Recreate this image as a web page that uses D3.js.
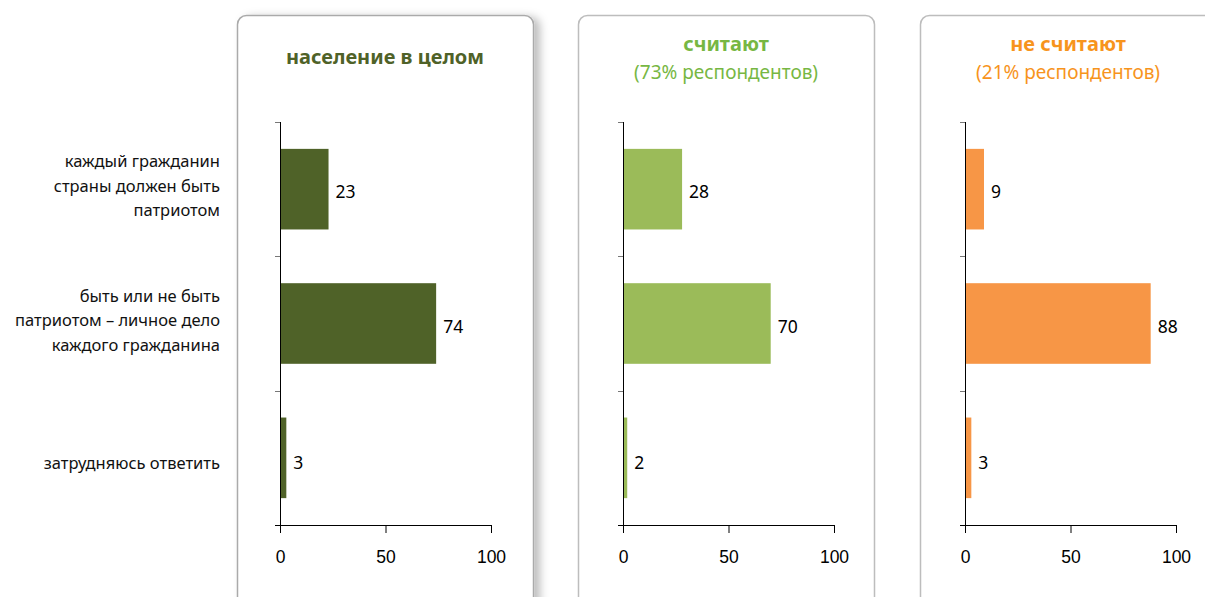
<!DOCTYPE html>
<html>
<head>
<meta charset="utf-8">
<script src="https://cdn.jsdelivr.net/npm/d3@7"></script>
<style>
  body { margin: 0; background: #fff; }
  svg { display: block; font-family: "Noto Sans", "Open Sans", sans-serif; }
  .cat { font-size: 16.5px; fill: #111; }
  .val { font-size: 17.5px; fill: #000; }
  .tick text { font-size: 17.5px; fill: #000; }
</style>
</head>
<body>
<svg id="chart" width="1205" height="597"></svg>
<script>
// Data
const categories = ['patriot', 'personal', 'dontknow'];
const categoryLines = [
  ['каждый гражданин', 'страны должен быть', 'патриотом'],
  ['быть или не быть', 'патриотом – личное дело', 'каждого гражданина'],
  ['затрудняюсь ответить'],
];
const panelTitles = ['население в целом', 'считают', 'не считают'];
const panelSubtitles = [null, '(73% респондентов)', '(21% респондентов)'];
const valuesAll = [23, 74, 3];
const valuesYes = [28, 70, 2];
const valuesNo = [9, 88, 3];
const xTicks = [0, 50, 100];

const panelValues = [valuesAll, valuesYes, valuesNo];
const barColors = ['#4f6228', '#9bbb59', '#f79646'];
const titleColors = ['#4f6228', '#77b743', '#f7941d'];

const svg = d3.select('#chart');

// drop shadow for the first card
const defs = svg.append('defs');
const f = defs.append('filter').attr('id', 'shadow').attr('x', '-10%').attr('width', '130%');
f.append('feDropShadow').attr('dx', 6).attr('dy', 2).attr('stdDeviation', 4)
  .attr('flood-color', '#000').attr('flood-opacity', 0.25);

const cardLeft = [237, 578, 920];
const cardW = 296;
const axisLeft = [280, 623, 965];
const plotW = 211;
const plotTop = 122, plotBottom = 525;

const y = d3.scaleBand()
  .domain(categories)
  .range([plotTop, plotBottom])
  .paddingInner(0.4)
  .paddingOuter(0.2);

panelValues.forEach((vals, p) => {
  const g = svg.append('g');

  g.append('rect')
    .attr('x', cardLeft[p] + 0.5).attr('y', 15.5)
    .attr('width', cardW).attr('height', 640)
    .attr('rx', 9)
    .attr('fill', '#fff')
    .attr('stroke', p === 0 ? '#aaa' : '#bdbdbd')
    .attr('stroke-width', 1.5)
    .attr('filter', p === 0 ? 'url(#shadow)' : null);

  const cx = cardLeft[p] + cardW / 2;
  if (panelSubtitles[p]) {
    g.append('text').attr('x', cx).attr('y', 51)
      .attr('text-anchor', 'middle').attr('font-size', 20).attr('font-weight', 'bold')
      .attr('fill', titleColors[p]).text(panelTitles[p]);
    g.append('text').attr('x', cx).attr('y', 79)
      .attr('text-anchor', 'middle').attr('font-size', 19)
      .attr('fill', titleColors[p]).text(panelSubtitles[p]);
  } else {
    g.append('text').attr('x', cx).attr('y', 64)
      .attr('text-anchor', 'middle').attr('font-size', 20).attr('font-weight', 'bold')
      .attr('fill', titleColors[p]).text(panelTitles[p]);
  }

  const x = d3.scaleLinear().domain([0, 100]).range([axisLeft[p], axisLeft[p] + plotW]);

  // bars
  g.selectAll('rect.bar')
    .data(vals)
    .join('rect')
    .attr('class', 'bar')
    .attr('x', x(0))
    .attr('y', (d, i) => y(categories[i]))
    .attr('width', d => x(d) - x(0))
    .attr('height', y.bandwidth())
    .attr('fill', barColors[p]);

  g.selectAll('text.val')
    .data(vals)
    .join('text')
    .attr('class', 'val')
    .attr('x', d => x(d) + 7)
    .attr('y', (d, i) => y(categories[i]) + y.bandwidth() / 2 + (i === 2 ? 5 : 3))
    .attr('dy', '0.35em')
    .text(d => d);

  // y axis with ticks at band boundaries
  const step = y.step();
  const bounds = d3.range(categories.length + 1).map(i => plotTop + i * step);
  g.append('line')
    .attr('x1', x(0) + 0.5).attr('x2', x(0) + 0.5)
    .attr('y1', plotTop).attr('y2', plotBottom + 8)
    .attr('stroke', '#000');
  g.selectAll('line.ytick')
    .data(bounds)
    .join('line')
    .attr('class', 'ytick')
    .attr('x1', x(0) - 5).attr('x2', x(0))
    .attr('y1', d => Math.round(d) + 0.5).attr('y2', d => Math.round(d) + 0.5)
    .attr('stroke', '#777');

  // x axis
  const xAxis = d3.axisBottom(x).tickValues(xTicks).tickSize(8).tickPadding(14);
  const ax = g.append('g')
    .attr('transform', `translate(0,${plotBottom})`)
    .call(xAxis);
  ax.select('.domain').attr('d', `M${x(0) - 5},0.5H${x(100) + 0.5}`).attr('stroke', '#000');
  ax.selectAll('.tick line').attr('stroke', '#000');
  ax.selectAll('.tick text').attr('dy', '0.9em');
});

// category labels on the left
const catG = svg.append('g');
categoryLines.forEach((lines, i) => {
  const cy = y(categories[i]) + y.bandwidth() / 2 + (lines.length > 1 ? -3 : 5);
  const lh = 24.5;
  const t = catG.append('text')
    .attr('class', 'cat')
    .attr('text-anchor', 'end')
    .attr('x', 220)
    .attr('y', cy - (lines.length - 1) * lh / 2);
  lines.forEach((ln, j) => {
    t.append('tspan')
      .attr('x', 220)
      .attr('dy', j === 0 ? '0.35em' : lh)
      .text(ln);
  });
});
</script>
</body>
</html>
